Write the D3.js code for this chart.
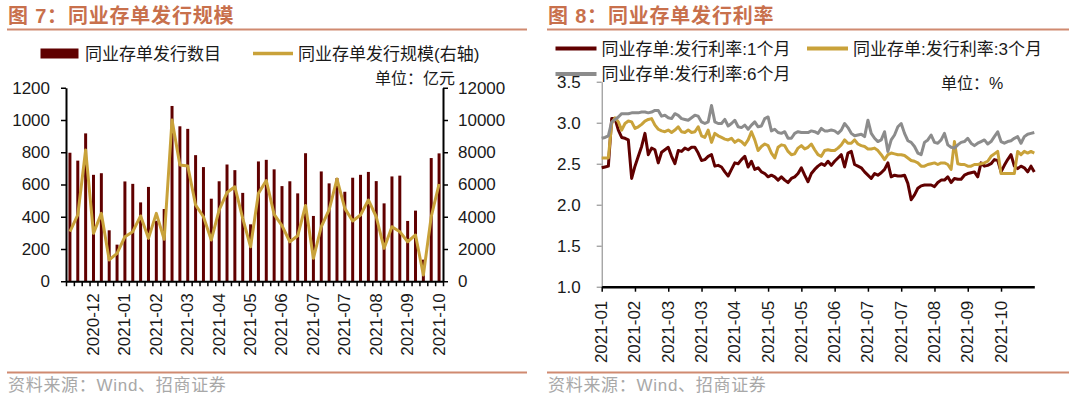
<!DOCTYPE html>
<html><head><meta charset="utf-8">
<script src="https://cdn.jsdelivr.net/npm/d3@7"></script>
<style>
html,body{margin:0;padding:0;background:#fff;}
svg{display:block;}
text{font-family:"Liberation Sans",Arial,"Noto Sans CJK SC",sans-serif;}
</style></head><body>
<svg id="c" width="1080" height="402"></svg>
<script>
// ---------- data: chart 7 (weekly) ----------
const weeks = ["2020-11-27","2020-12-04","2020-12-11","2020-12-18","2020-12-25","2021-01-01","2021-01-08","2021-01-15","2021-01-22","2021-01-29",
"2021-02-05","2021-02-12","2021-02-19","2021-02-26","2021-03-05","2021-03-12","2021-03-19","2021-03-26","2021-04-02","2021-04-09",
"2021-04-16","2021-04-23","2021-04-30","2021-05-07","2021-05-14","2021-05-21","2021-05-28","2021-06-04","2021-06-11","2021-06-18",
"2021-06-25","2021-07-02","2021-07-09","2021-07-16","2021-07-23","2021-07-30","2021-08-06","2021-08-13","2021-08-20","2021-08-27",
"2021-09-03","2021-09-10","2021-09-17","2021-09-24","2021-10-01","2021-10-08","2021-10-15","2021-10-22"];
const issueCount = [797,748,917,660,670,316,227,619,604,489,585,375,448,1087,961,945,782,708,512,620,724,689,548,353,743,753,694,590,620,545,794,405,681,607,640,555,642,660,678,621,483,650,655,374,438,134,764,793];
const issueAmount = [3080,4110,8140,2970,4210,1320,1730,2760,3075,4050,2660,4210,2600,10000,7210,7150,4730,4000,2560,4420,5500,5860,3900,2140,5450,6250,4150,3450,2450,2820,4700,1420,3380,4420,6340,4520,3740,4110,5040,4000,2040,3380,3075,2450,2870,390,4000,6030];
const countTicks = [0,200,400,600,800,1000,1200];
const amountTicks = [0,2000,4000,6000,8000,10000,12000];

// ---------- data: chart 8 (rates, %) ----------
const rateTickLabels = ["2021-01","2021-02","2021-03","2021-03","2021-04","2021-05","2021-05","2021-06","2021-07","2021-07","2021-08","2021-09","2021-10"];
const rate1M = [2.45,2.46,2.47,3.05,3.05,2.91,2.82,2.81,2.79,2.32,
2.47,2.59,2.71,2.87,2.61,2.69,2.67,2.51,2.64,2.67,
2.70,2.59,2.50,2.66,2.65,2.69,2.67,2.70,2.70,2.63,
2.54,2.55,2.59,2.61,2.47,2.48,2.46,2.40,2.35,2.43,
2.51,2.50,2.55,2.59,2.46,2.53,2.43,2.45,2.40,2.38,
2.34,2.36,2.34,2.30,2.34,2.30,2.27,2.32,2.34,2.38,
2.45,2.36,2.28,2.38,2.43,2.47,2.50,2.48,2.53,2.48,
2.53,2.57,2.61,2.46,2.63,2.65,2.49,2.47,2.45,2.40,
2.36,2.32,2.38,2.36,2.39,2.43,2.51,2.34,2.36,2.35,
2.35,2.36,2.26,2.06,2.12,2.20,2.23,2.24,2.24,2.24,
2.22,2.27,2.30,2.30,2.34,2.27,2.32,2.31,2.31,2.36,
2.38,2.39,2.40,2.34,2.51,2.47,2.48,2.50,2.55,2.54,
2.40,2.48,2.55,2.61,2.47,2.44,2.47,2.45,2.40,2.47,
2.40];
const rate3M = [2.57,2.57,2.57,2.99,3.06,3.01,2.91,2.99,3.02,3.01,
2.93,2.95,2.98,3.02,3.04,3.05,2.97,2.92,2.90,2.89,
2.91,2.88,2.91,2.95,2.89,2.88,2.91,2.88,2.89,2.95,
2.84,2.82,2.91,2.76,2.87,2.84,2.82,2.80,2.79,2.81,
2.76,2.79,2.77,2.73,2.79,2.89,2.79,2.66,2.71,2.74,
2.72,2.63,2.57,2.70,2.73,2.72,2.65,2.61,2.62,2.69,
2.72,2.68,2.70,2.74,2.67,2.61,2.59,2.66,2.67,2.66,
2.66,2.69,2.73,2.79,2.75,2.75,2.79,2.74,2.72,2.71,
2.68,2.68,2.69,2.66,2.61,2.55,2.61,2.63,2.62,2.61,
2.61,2.60,2.57,2.54,2.53,2.51,2.47,2.47,2.49,2.50,
2.51,2.49,2.51,2.51,2.49,2.43,2.77,2.50,2.49,2.49,
2.47,2.47,2.49,2.49,2.50,2.51,2.53,2.59,2.62,2.65,
2.38,2.38,2.38,2.38,2.38,2.65,2.61,2.65,2.63,2.65,
2.63];
const rate6M = [2.81,2.82,2.84,3.01,3.04,3.07,3.11,3.11,3.11,3.12,
3.12,3.12,3.13,3.13,3.12,3.13,3.15,3.15,3.08,3.09,
3.06,3.05,3.11,3.09,3.05,3.04,3.03,3.06,3.09,3.08,
3.01,2.99,3.01,3.21,3.01,2.99,2.99,3.04,2.96,2.99,
3.03,2.95,2.94,2.97,2.92,2.97,3.01,2.95,2.96,3.05,
3.07,2.90,2.92,2.88,2.87,2.89,2.81,2.81,2.87,2.89,
2.88,2.88,2.88,2.90,2.89,2.87,2.93,2.90,2.90,2.91,
2.90,2.87,2.91,2.99,2.94,2.87,2.84,2.85,2.86,2.83,
3.03,2.87,2.81,2.77,2.79,2.89,2.65,2.79,2.85,2.95,
2.99,2.87,2.78,2.76,2.71,2.63,2.61,2.76,2.79,2.85,
2.76,2.75,2.79,2.87,2.73,2.70,2.69,2.73,2.76,2.77,
2.81,2.75,2.72,2.75,2.77,2.79,2.74,2.77,2.83,2.89,
2.77,2.75,2.77,2.78,2.81,2.83,2.75,2.83,2.86,2.87,
2.88];
const rateTicks = [1.0,1.5,2.0,2.5,3.0,3.5];

// ---------- styles ----------
const COL = {title:"#C8704C", rule:"#D08A70", dark:"#600000", gold:"#C9A23A", gray:"#8C8C8C", src:"#A8A8A8", txt:"#1a1a1a"};
const svg = d3.select("#c");

function panelFrame(x0, x1, title) {
  svg.append("text").attr("x", x0 + 1).attr("y", 23).attr("font-size", 20).attr("font-weight", "bold")
    .attr("letter-spacing", 0.8).attr("fill", COL.title).text(title);
  svg.append("line").attr("x1", x0).attr("x2", x1).attr("y1", 29.5).attr("y2", 29.5)
    .attr("stroke", COL.rule).attr("stroke-width", 2);
  svg.append("line").attr("x1", x0).attr("x2", x1).attr("y1", 372.5).attr("y2", 372.5)
    .attr("stroke", COL.rule).attr("stroke-width", 2);
  svg.append("text").attr("x", x0 + 1).attr("y", 391).attr("font-size", 17).attr("letter-spacing", 0.7)
    .attr("fill", COL.src).text("资料来源：Wind、招商证券");
}
function styleAxis(g, color, width) {
  g.select(".domain").attr("stroke", color).attr("stroke-width", width);
  g.selectAll(".tick line").attr("stroke", color).attr("stroke-width", width > 1.5 ? 1.5 : 1);
  g.selectAll(".tick text").attr("font-size", 17).attr("fill", COL.txt)
    .style("font-family", '"Liberation Sans",Arial,sans-serif');
}

// ================= LEFT: chart 7 =================
panelFrame(7, 527, "图 7：同业存单发行规模");
const L = {x0: 66, x1: 443, yTop: 87.75, yBot: 281.25};
const parse = d3.timeParse("%Y-%m-%d");
const fmtM = d3.timeFormat("%Y-%m");
const xL = d3.scaleBand().domain(d3.range(weeks.length)).range([L.x0, L.x1]).paddingInner(0.62).paddingOuter(0.31);
const xEdge = d3.scaleLinear().domain([0, weeks.length]).range([L.x0, L.x1]);
const yL = d3.scaleLinear().domain([0, 1200]).range([L.yBot, L.yTop]);
const yR = d3.scaleLinear().domain([0, 12000]).range([L.yBot, L.yTop]);

svg.append("g").selectAll("rect").data(issueCount).join("rect")
  .attr("x", (d, i) => xL(i)).attr("width", xL.bandwidth())
  .attr("y", d => yL(d)).attr("height", d => L.yBot - yL(d)).attr("fill", COL.dark);

svg.append("path").datum(issueAmount)
  .attr("d", d3.line().x((d, i) => xL(i) + xL.bandwidth() / 2).y(d => yR(d)))
  .attr("fill", "none").attr("stroke", COL.gold).attr("stroke-width", 3).attr("stroke-linejoin", "round");

const gyl = svg.append("g").attr("transform", `translate(${L.x0},0)`)
  .call(d3.axisLeft(yL).tickValues(countTicks).tickSize(5).tickSizeOuter(0).tickPadding(11).tickFormat(d3.format("d")));
styleAxis(gyl, "#000", 2);
const gyr = svg.append("g").attr("transform", `translate(${L.x1},0)`)
  .call(d3.axisRight(yR).tickValues(amountTicks).tickSize(5).tickSizeOuter(0).tickPadding(10).tickFormat(d3.format("d")));
styleAxis(gyr, "#000", 2);
const gxl = svg.append("g").attr("transform", `translate(0,${L.yBot})`)
  .call(d3.axisBottom(xEdge).tickValues(d3.range(weeks.length + 1)).tickSize(5).tickSizeOuter(0).tickFormat(""));
styleAxis(gxl, "#000", 2);

svg.append("g").selectAll("text").data(weeks.map((w, i) => ({w, i})).filter(d => d.i % 4 === 3)).join("text")
  .attr("transform", d => `translate(${xL(d.i) + xL.bandwidth() / 2},${L.yBot + 12}) rotate(-90)`)
  .attr("text-anchor", "end").attr("dominant-baseline", "central").attr("font-size", 17).attr("fill", COL.txt)
  .text(d => fmtM(parse(d.w)));

// legend
svg.append("rect").attr("x", 40.5).attr("y", 48.5).attr("width", 38).attr("height", 10).attr("fill", COL.dark);
svg.append("text").attr("x", 85).attr("y", 59.5).attr("font-size", 17).attr("fill", COL.txt).text("同业存单发行数目");
svg.append("line").attr("x1", 253).attr("x2", 293).attr("y1", 53.5).attr("y2", 53.5).attr("stroke", COL.gold).attr("stroke-width", 3.5);
svg.append("text").attr("x", 298).attr("y", 59.5).attr("font-size", 17).attr("fill", COL.txt).text("同业存单发行规模(右轴)");
svg.append("text").attr("x", 375).attr("y", 84).attr("font-size", 16).attr("fill", COL.txt).text("单位：亿元");

// ================= RIGHT: chart 8 =================
panelFrame(547, 1069, "图 8：同业存单发行利率");
const R = {x0: 601.7, x1: 1034.3, yTop: 81.7, yBot: 286.7};
const xRt = d3.scaleLinear().domain([0, rate1M.length - 1]).range([R.x0, R.x1]);
const yRt = d3.scaleLinear().domain([1, 3.5]).range([R.yBot, R.yTop]);
const tickIdx = rateTickLabels.map((d, i) => i * 10);

const gyr2 = svg.append("g").attr("transform", `translate(${R.x0},0)`)
  .call(d3.axisLeft(yRt).tickValues(rateTicks).tickSize(5).tickSizeOuter(0).tickPadding(16).tickFormat(d3.format(".1f")));
styleAxis(gyr2, "#808080", 1);

const lineR = d3.line().x((d, i) => xRt(i)).y(d => yRt(d));
[[rate1M, COL.dark], [rate3M, COL.gold], [rate6M, COL.gray]].forEach(([s, c]) => {
  svg.append("path").datum(s).attr("d", lineR).attr("fill", "none").attr("stroke", c)
    .attr("stroke-width", 3).attr("stroke-linejoin", "round");
});

const gxr2 = svg.append("g").attr("transform", `translate(0,${R.yBot})`)
  .call(d3.axisBottom(xRt).tickValues(tickIdx).tickSize(5).tickSizeOuter(0).tickFormat(""));
styleAxis(gxr2, "#000", 2.5);
svg.append("g").selectAll("text").data(rateTickLabels).join("text")
  .attr("transform", (d, i) => `translate(${xRt(tickIdx[i])},${R.yBot + 14}) rotate(-90)`)
  .attr("text-anchor", "end").attr("dominant-baseline", "central").attr("font-size", 17).attr("fill", COL.txt)
  .text(d => d);

// legend
const legR = [["同业存单:发行利率:1个月", COL.dark, 555.5, 48.5], ["同业存单:发行利率:3个月", COL.gold, 807, 48.5], ["同业存单:发行利率:6个月", COL.gray, 555.5, 74]];
legR.forEach(([t, c, x, y]) => {
  svg.append("line").attr("x1", x).attr("x2", x + 41).attr("y1", y).attr("y2", y).attr("stroke", c).attr("stroke-width", 4);
  svg.append("text").attr("x", x + 46).attr("y", y + 6).attr("font-size", 17).attr("fill", COL.txt).text(t);
});
svg.append("text").attr("x", 941).attr("y", 89).attr("font-size", 16).attr("fill", COL.txt).text("单位：%");
</script>
</body></html>
